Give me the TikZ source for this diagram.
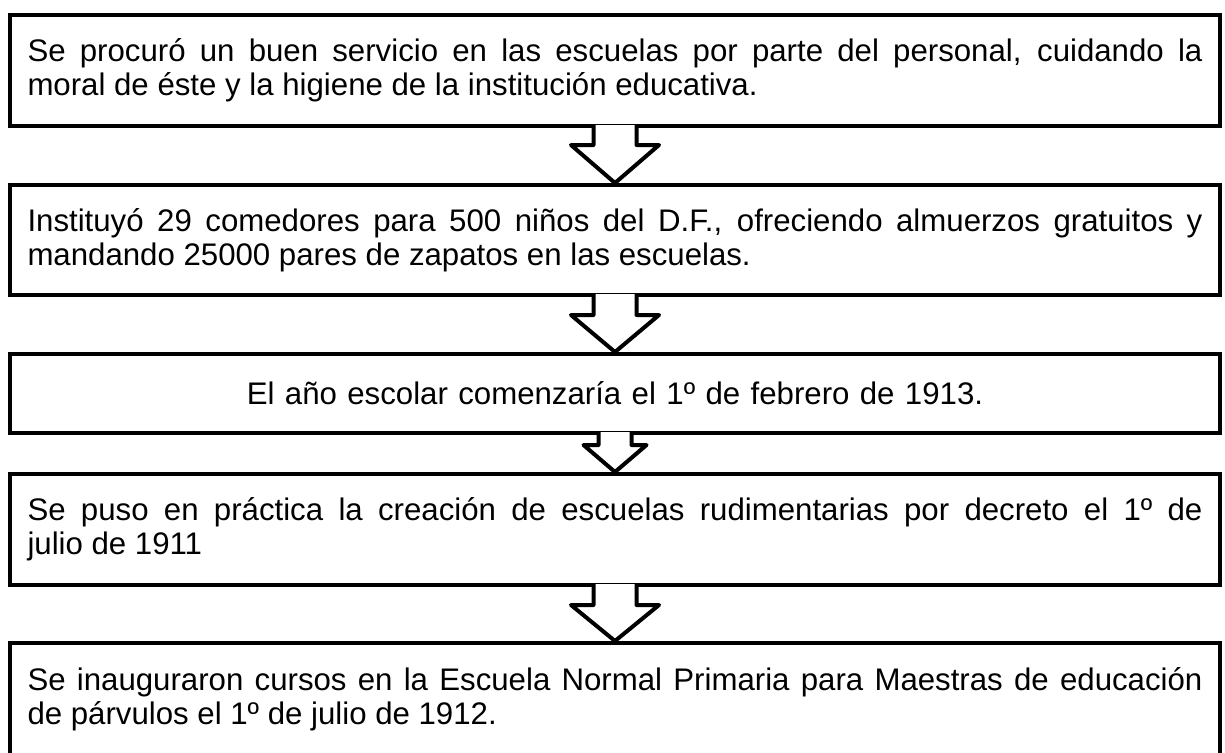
\documentclass[tikz,border=0pt]{standalone}
\usepackage{fontspec}
\setmainfont{Liberation Sans}
\usetikzlibrary{calc}
\tikzset{
  caja/.style={draw, line width=4pt, minimum width=1210pt, text width=1175pt,
    inner xsep=17.5pt, align=justify, font=\fontsize{31.2}{34}\selectfont},
  flecha/.style={draw, fill=white, line width=4pt, line join=round}
}

\begin{document}
\begin{tikzpicture}[x=1pt, y=-1pt]
  \useasboundingbox (0,0) rectangle (1225,752);
  % boxes
  \node[caja, minimum height=111pt] (servicio) at (615,70.5)
    {Se procuró un buen servicio en las escuelas por parte del personal, cuidando la\linebreak moral de éste y la higiene de la institución educativa.};
  \node[caja, minimum height=110pt] (comedores) at (615,240)
    {Instituyó 29 comedores para 500 niños del D.F., ofreciendo almuerzos gratuitos y\linebreak mandando 25000 pares de zapatos en las escuelas.};
  \node[caja, minimum height=79pt, align=center] (anio) at (615,393.5)
    {El año escolar comenzaría el 1º de febrero de 1913.};
  \node[caja, minimum height=111pt] (decreto) at (615,529.5)
    {Se puso en práctica la creación de escuelas rudimentarias por decreto el 1º de\linebreak julio de 1911};
  \node[caja, minimum height=113pt] (cursos) at (615,699.5)
    {Se inauguraron cursos en la Escuela Normal Primaria para Maestras de educación\linebreak de párvulos el 1º de julio de 1912.};
  % arrows
  \foreach \a/\b/\s/\h/\l in {servicio/comedores/21.5/44/17, comedores/anio/21.5/44/18,
      anio/decreto/16.5/31.5/10, decreto/cursos/21.5/44/18}
    \path[flecha] ($(\a.south)+(-\s,-3)$) -- ($(\a.south)+(-\s,\l)$) -- ($(\a.south)+(-\h,\l)$)
      -- (\b.north) -- ($(\a.south)+(\h,\l)$) -- ($(\a.south)+(\s,\l)$) -- ($(\a.south)+(\s,-3)$);
\end{tikzpicture}
\end{document}
